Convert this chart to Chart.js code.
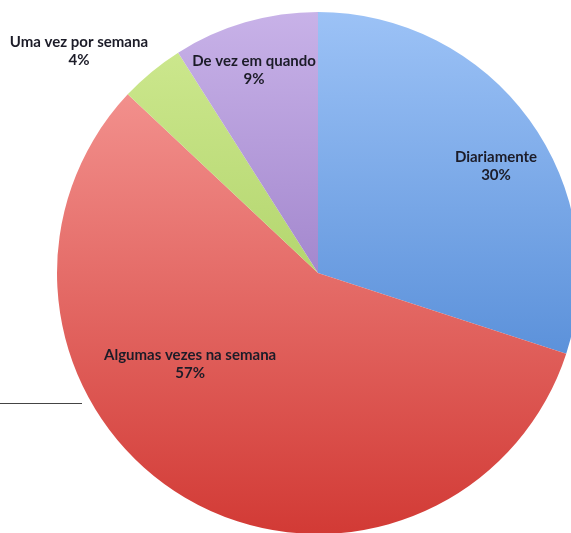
<!DOCTYPE html>
<html>
<head>
<meta charset="utf-8">
<script src="https://cdn.jsdelivr.net/npm/chart.js@4/dist/chart.umd.min.js"></script>
<style>
  html, body { margin: 0; padding: 0; background: #fff; }
  body { width: 571px; height: 533px; overflow: hidden; position: relative; }
  #wrap { position: absolute; left: 0; top: 0; width: 580px; height: 540px; }
  .rule { position: absolute; left: 0; top: 403px; width: 82px; border-top: 1px solid #444; }
</style>
</head>
<body>
<div id="wrap"><canvas id="pie"></canvas></div>
<div class="rule"></div>
<script>
const categories = ["Diariamente", "Algumas vezes na semana", "Uma vez por semana", "De vez em quando"];
const percents = [30, 57, 4, 9];

// top/bottom colours of each slice's vertical gradient
const topColors = ["#9cc2f6", "#f8a09d", "#d0ea92", "#c8b2e8"];
const bottomColors = ["#3a78cc", "#d23a35", "#98c24c", "#7f5db4"];

// label anchors, as fractions of the radius from the centre
const labelOffsets = [[0.682, -0.410], [-0.490, 0.349], [-0.916, -0.851], [-0.245, -0.778]];

function sliceFill(ctx) {
  const chart = ctx.chart;
  const area = chart.chartArea;
  if (!area) return topColors[ctx.dataIndex];
  const g = chart.ctx.createLinearGradient(0, area.top, 0, area.bottom);
  g.addColorStop(0, topColors[ctx.dataIndex]);
  g.addColorStop(1, bottomColors[ctx.dataIndex]);
  return g;
}

const pieLabels = {
  id: "pieLabels",
  afterDatasetsDraw(chart) {
    const ctx = chart.ctx;
    const arcs = chart.getDatasetMeta(0).data;
    ctx.save();
    ctx.font = "bold 15px Lato, 'Open Sans', sans-serif";
    ctx.fillStyle = "#1c1c28";
    ctx.textAlign = "center";
    ctx.textBaseline = "middle";
    arcs.forEach((arc, i) => {
      const r = arc.outerRadius;
      const x = arc.x + labelOffsets[i][0] * r;
      const y = arc.y + labelOffsets[i][1] * r;
      ctx.fillText(categories[i], x, y - 9);
      ctx.fillText(percents[i] + "%", x, y + 9);
    });
    ctx.restore();
  }
};

new Chart(document.getElementById("pie"), {
  type: "pie",
  data: {
    labels: categories,
    datasets: [{
      data: percents,
      backgroundColor: sliceFill,
      borderWidth: 0
    }]
  },
  options: {
    responsive: true,
    maintainAspectRatio: false,
    animation: false,
    layout: { padding: { left: 57, top: 12, right: 1, bottom: 6 } },
    plugins: {
      legend: { display: false },
      tooltip: { enabled: false }
    }
  },
  plugins: [pieLabels]
});
</script>
</body>
</html>
